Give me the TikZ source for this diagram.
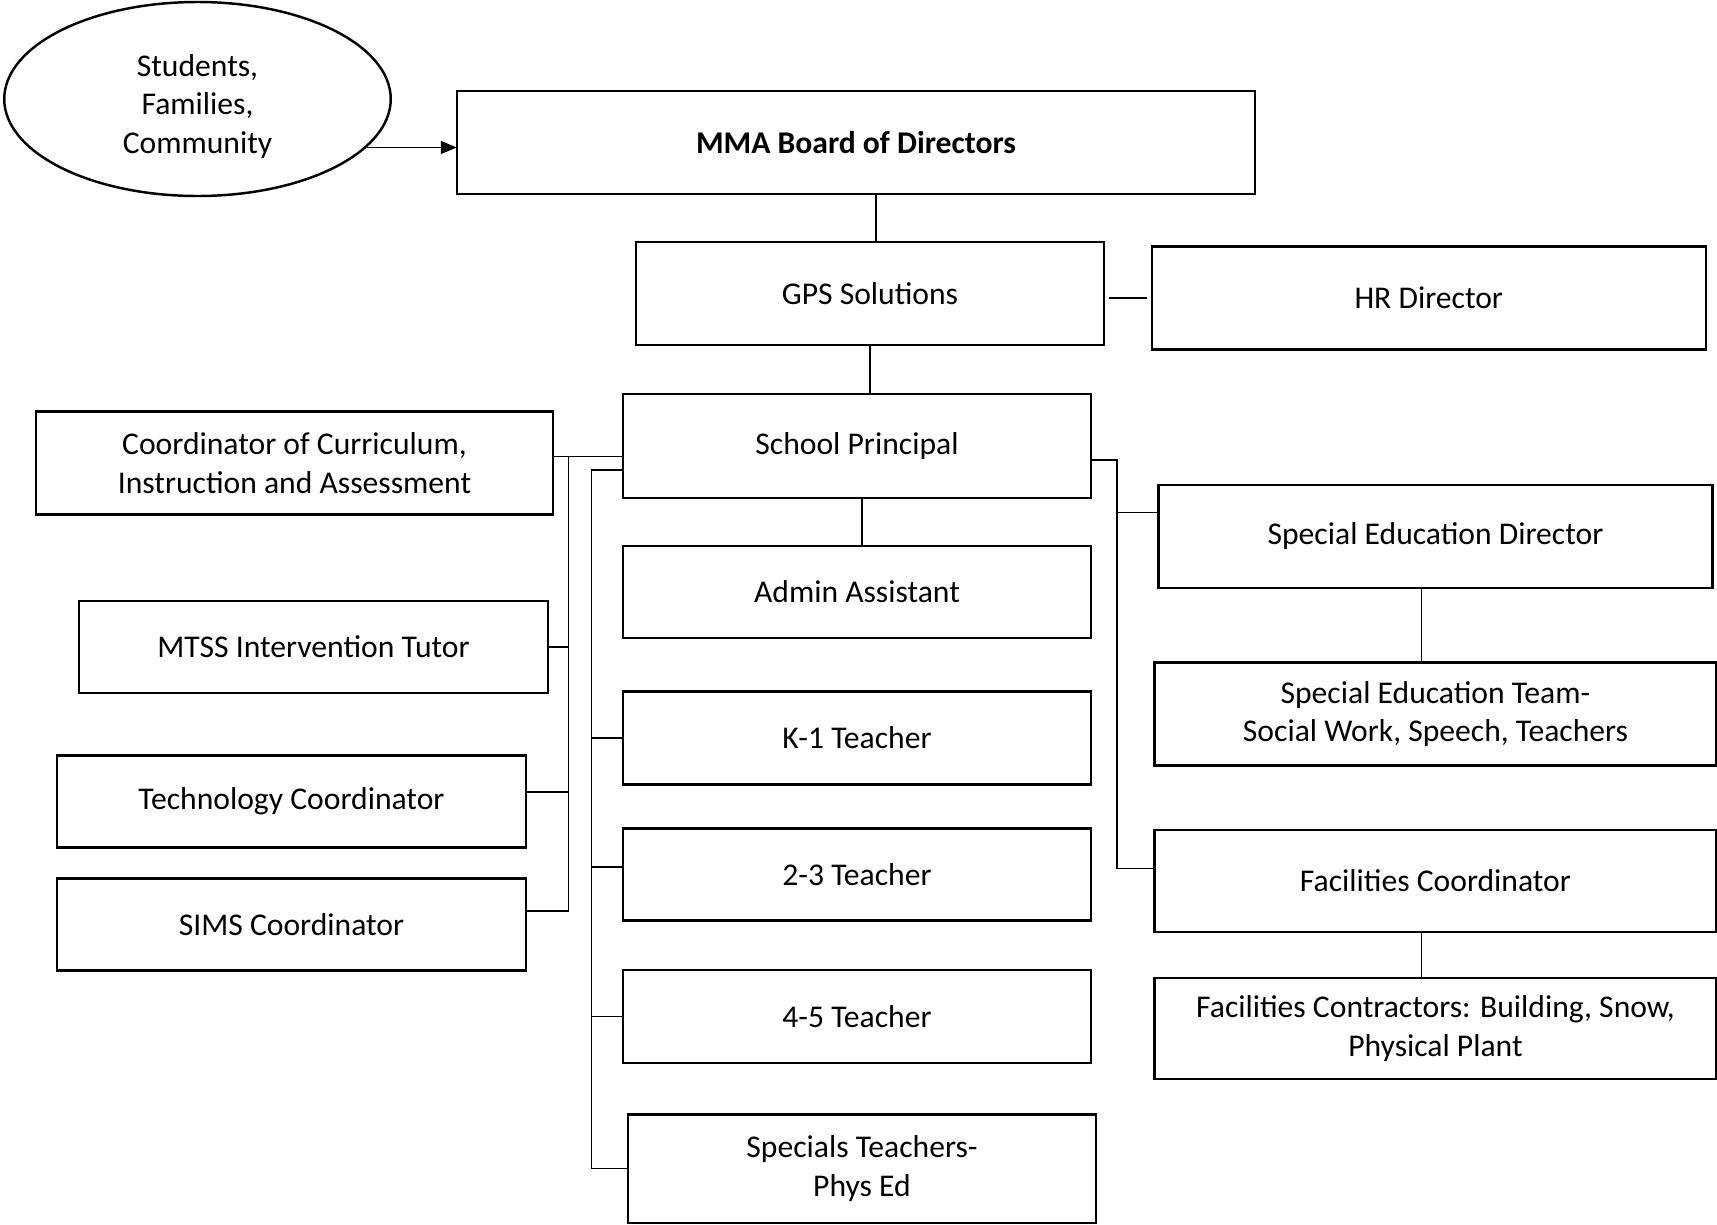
\documentclass[tikz,border=0pt]{standalone}
\usepackage{fontspec}
\setmainfont{Carlito}
\usetikzlibrary{shapes.geometric, arrows.meta, positioning}
\tikzset{
    orgbox/.style={rectangle, draw, line width=1.4pt, outer sep=0pt, minimum width=9.35cm, minimum height=1.84cm, inner sep=2pt, align=center, font=\fontsize{18}{22}\selectfont},
    link/.style={line width=0.6pt}
}

\begin{document}
\begin{tikzpicture}
    \useasboundingbox (0,0) rectangle (34.34,-24.5);

    % top of the chart
    \node (people) [ellipse, draw, line width=1.4pt, minimum width=7.73cm, minimum height=3.88cm, align=center, font=\fontsize{18}{22}\selectfont] at (3.95,-1.98) {\rule{0pt}{21pt}Students,\\Families,\\Community};
    \node (board) [orgbox, minimum width=15.97cm, minimum height=2.06cm, font=\bfseries\fontsize{18}{22}\selectfont] at (17.12,-2.85) {MMA Board of Directors};
    \node (gps)   [orgbox, minimum height=2.06cm, below=0.96cm of board, xshift=0.28cm] {GPS Solutions};
    \node (hr)    [orgbox, minimum width=11.08cm, minimum height=2.06cm, right=0.96cm of gps, yshift=-0.09cm] {HR Director};

    % middle column
    \node (princ) [orgbox, minimum height=2.08cm, below=0.98cm of gps, xshift=-0.26cm] {School Principal};
    \node (admin) [orgbox, below=0.96cm of princ] {Admin Assistant};
    \node (k1)    [orgbox, minimum height=1.86cm, below=1.07cm of admin] {K-1 Teacher};
    \node (t23)   [orgbox, below=0.88cm of k1] {2-3 Teacher};
    \node (t45)   [orgbox, minimum height=1.86cm, below=0.99cm of t23] {4-5 Teacher};
    \node (spec)  [orgbox, minimum width=9.37cm, minimum height=2.17cm, below=1.03cm of t45, xshift=0.1cm] {Specials Teachers-\\Phys Ed};

    % left column
    \node (curric) [orgbox, minimum width=10.34cm, minimum height=2.06cm] at (5.89,-9.26) {Coordinator of Curriculum,\\Instruction and Assessment};
    \node (mtss)   [orgbox, minimum width=9.37cm, below=1.73cm of curric, xshift=0.38cm] {MTSS Intervention Tutor};
    \node (tech)   [orgbox, minimum width=9.37cm, below=1.25cm of mtss, xshift=-0.44cm] {Technology Coordinator};
    \node (sims)   [orgbox, minimum width=9.37cm, below=0.62cm of tech] {SIMS Coordinator};

    % right column
    \node (sed)      [orgbox, minimum width=11.08cm, minimum height=2.06cm] at (28.71,-10.73) {Special Education Director};
    \node (spteam)   [orgbox, minimum width=11.24cm, minimum height=2.06cm, below=1.49cm of sed] {Special Education Team-\\Social Work, Speech, Teachers};
    \node (faccoord) [orgbox, minimum width=11.24cm, minimum height=2.04cm, below=1.29cm of spteam] {Facilities Coordinator};
    \node (faccontr) [orgbox, minimum width=11.24cm, minimum height=2.02cm, below=0.92cm of faccoord] {Facilities Contractors: Building, Snow,\\Physical Plant};

    % bus lines
    \coordinate (lbus) at (11.37,-9.13);
    \coordinate (ibus) at (11.83,-9.40);
    \coordinate (rbus) at (22.34,-9.20);

    \draw [line width=0.8pt, -{Triangle[length=0.32cm, width=0.26cm]}] (people.-16.4) -- (board.west |- people.-16.4);
    \draw [link] ([xshift=0.12cm]gps.north) -- ([xshift=0.12cm]gps.north |- board.south);
    \draw [link, shorten <=0.1cm, shorten >=0.1cm] (hr.west) -- (hr.west -| gps.east);
    \draw [link] (gps.south) -- (gps.south |- princ.north);
    \draw [link] ([xshift=0.1cm]admin.north) -- ([xshift=0.1cm]admin.north |- princ.south);

    \draw [link] (curric.east |- lbus) -- (princ.west |- lbus);
    \draw [link] (lbus) |- (mtss.east);
    \draw [link] (lbus) |- ([yshift=0.19cm]tech.east);
    \draw [link] (lbus) |- ([yshift=0.27cm]sims.east);

    \draw [link] (princ.west |- ibus) -- (ibus) |- (k1.west);
    \draw [link] (ibus) |- ([yshift=0.15cm]t23.west);
    \draw [link] (ibus) |- (t45.west);
    \draw [link] (ibus) |- (spec.west);

    \draw [link] (princ.east |- rbus) -- (rbus) |- ([yshift=0.25cm]faccoord.west);
    \draw [link] (rbus) |- ([yshift=0.48cm]sed.west);
    \draw [link] ([xshift=-0.28cm]sed.south) -- ([xshift=-0.28cm]spteam.north);
    \draw [link] ([xshift=-0.28cm]faccoord.south) -- ([xshift=-0.28cm]faccontr.north);
\end{tikzpicture}
\end{document}
